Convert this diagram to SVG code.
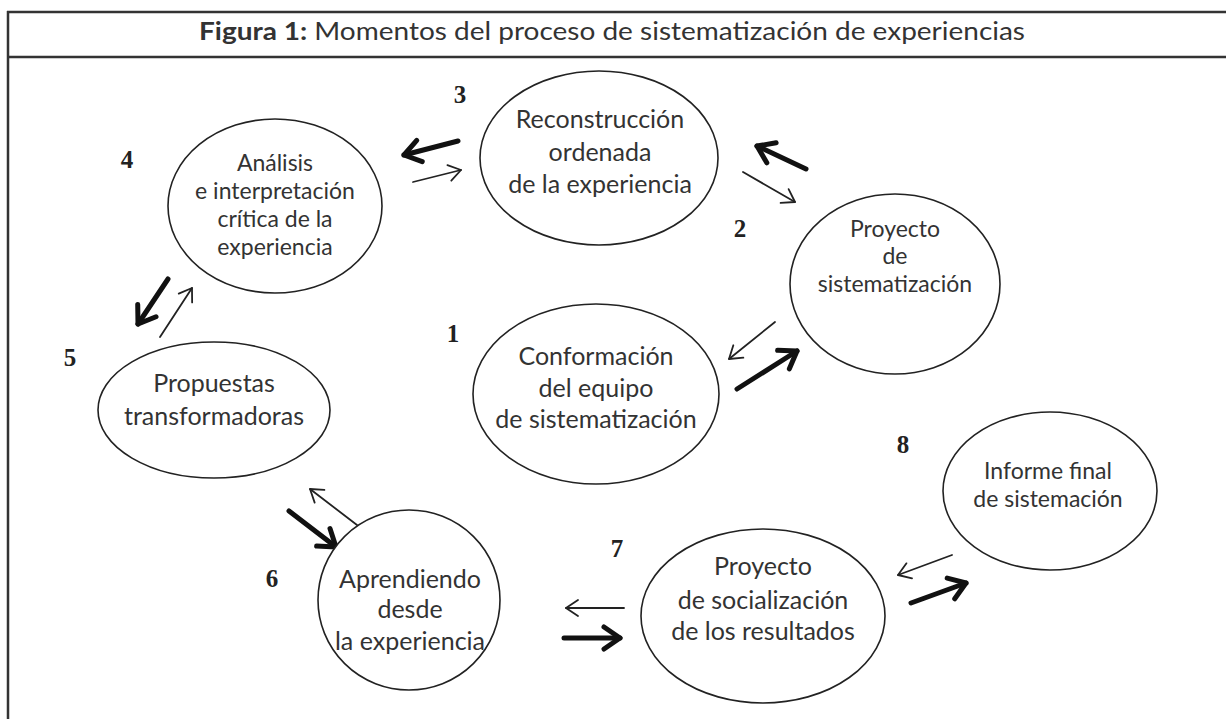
<svg xmlns="http://www.w3.org/2000/svg" width="1226" height="719" viewBox="0 0 1226 719">
<style>
.frame{stroke:#333;stroke-width:2.5;fill:none}
.node ellipse{fill:#fff;stroke:#222;stroke-width:1.6}
.lbl{font-family:Lato,"Open Sans","Liberation Sans",sans-serif;font-size:25px;fill:#333;text-anchor:middle}
text.sm{font-size:23px}
.num{font-family:"Liberation Serif",serif;font-weight:bold;font-size:25px;fill:#222;text-anchor:middle}
.thick{stroke:#111;stroke-width:5;fill:none;stroke-linecap:round;marker-end:url(#hThick)}
.thin{stroke:#222;stroke-width:1.8;fill:none;stroke-linecap:round;marker-end:url(#hThin)}
.title{font-family:Lato,"Open Sans","Liberation Sans",sans-serif;font-size:25px;fill:#333;text-anchor:middle}
</style>
<defs>
<marker id="hThick" markerUnits="userSpaceOnUse" viewBox="-22 -14 26 28" refX="0" refY="0" markerWidth="26" markerHeight="28" orient="auto">
<path d="M-16,-11 L0,0 L-16,11" fill="none" stroke="#111" stroke-width="5" stroke-linecap="round" stroke-linejoin="round"/>
</marker>
<marker id="hThin" markerUnits="userSpaceOnUse" viewBox="-18 -12 22 24" refX="0" refY="0" markerWidth="22" markerHeight="24" orient="auto">
<path d="M-12,-8 L0,0 L-12,8" fill="none" stroke="#222" stroke-width="1.8" stroke-linecap="round" stroke-linejoin="round"/>
</marker>
</defs>
<rect width="1226" height="719" fill="#fff"/>
<g id="frame">
<line class="frame" x1="7" y1="12" x2="1226" y2="12"/>
<line class="frame" x1="7" y1="57" x2="1226" y2="57"/>
<line class="frame" x1="8" y1="11" x2="8" y2="719"/>
<text class="title" x="612" y="40" textLength="826" lengthAdjust="spacingAndGlyphs"><tspan font-weight="bold">Figura 1:</tspan> Momentos del proceso de sistematización de experiencias</text>
</g>
<g id="connectors">
<path class="thick" d="M458,141 L404,155"/>
<path class="thin" d="M413,182 L461,170"/>
<path class="thick" d="M806,169 L757,146"/>
<path class="thin" d="M743,172 L795,202"/>
<path class="thin" d="M775,322 L729,359"/>
<path class="thick" d="M737,389 L797,351"/>
<path class="thick" d="M168,279 L138,324"/>
<path class="thin" d="M160,337 L192,288"/>
<path class="thin" d="M357,525 L310,489"/>
<path class="thick" d="M289,511 L336,547"/>
<path class="thin" d="M624,608 L566,608"/>
<path class="thick" d="M564,638 L620,638"/>
<path class="thin" d="M952,555 L898,575"/>
<path class="thick" d="M911,603 L966,583"/>
</g>
<g id="node1" class="node">
<ellipse cx="596" cy="394" rx="123" ry="90"/>
<text class="num" x="453" y="342">1</text>
<text class="lbl" x="596" y="365">Conformación</text>
<text class="lbl" x="596" y="397">del equipo</text>
<text class="lbl" x="596" y="428">de sistematización</text>
</g>
<g id="node2" class="node">
<ellipse cx="895" cy="284" rx="105" ry="90"/>
<text class="num" x="740" y="237">2</text>
<text class="lbl sm" x="895" y="237">Proyecto</text>
<text class="lbl sm" x="895" y="264">de</text>
<text class="lbl sm" x="895" y="292">sistematización</text>
</g>
<g id="node3" class="node">
<ellipse cx="599" cy="158" rx="119" ry="87"/>
<text class="num" x="460" y="103">3</text>
<text class="lbl" x="600" y="128">Reconstrucción</text>
<text class="lbl" x="600" y="161">ordenada</text>
<text class="lbl" x="600" y="193">de la experiencia</text>
</g>
<g id="node4" class="node">
<ellipse cx="275" cy="206" rx="107" ry="87"/>
<text class="num" x="127" y="168">4</text>
<text class="lbl sm" x="275" y="171">Análisis</text>
<text class="lbl sm" x="275" y="199">e interpretación</text>
<text class="lbl sm" x="275" y="227">crítica de la</text>
<text class="lbl sm" x="275" y="255">experiencia</text>
</g>
<g id="node5" class="node">
<ellipse cx="214" cy="410" rx="116" ry="68"/>
<text class="num" x="70" y="366">5</text>
<text class="lbl" x="214" y="392">Propuestas</text>
<text class="lbl" x="214" y="425">transformadoras</text>
</g>
<g id="node6" class="node">
<ellipse cx="409" cy="600" rx="91" ry="90"/>
<text class="num" x="272" y="587">6</text>
<text class="lbl" x="410" y="588">Aprendiendo</text>
<text class="lbl" x="410" y="618">desde</text>
<text class="lbl" x="410" y="650">la experiencia</text>
</g>
<g id="node7" class="node">
<ellipse cx="763" cy="616" rx="122" ry="87"/>
<text class="num" x="617" y="557">7</text>
<text class="lbl" x="763" y="575">Proyecto</text>
<text class="lbl" x="763" y="609">de socialización</text>
<text class="lbl" x="763" y="640">de los resultados</text>
</g>
<g id="node8" class="node">
<ellipse cx="1050" cy="491" rx="107" ry="79"/>
<text class="num" x="903" y="453">8</text>
<text class="lbl sm" x="1048" y="479">Informe final</text>
<text class="lbl sm" x="1048" y="507">de sistemación</text>
</g>
</svg>
